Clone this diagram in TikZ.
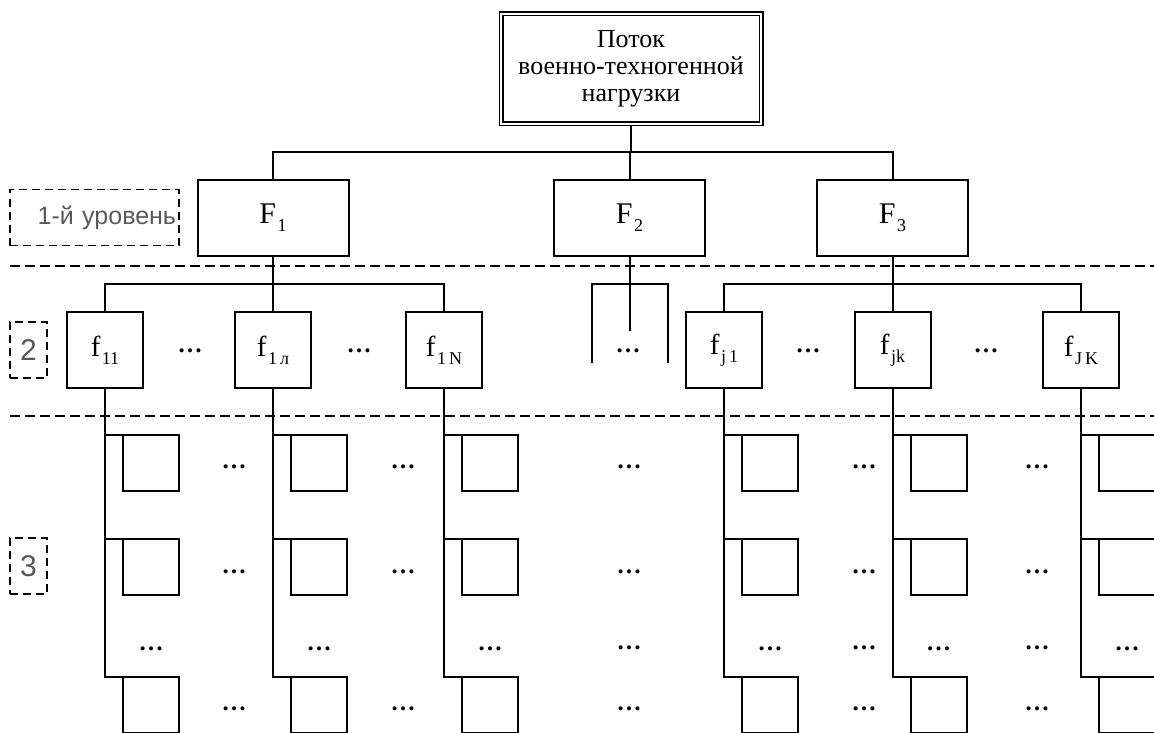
\documentclass[tikz,border=0pt]{standalone}
\usepackage{fontspec}
\setmainfont{Liberation Serif}
\setsansfont{Liberation Sans}
\usetikzlibrary{positioning}

% lowered index after F / f
\newcommand{\idx}[1]{\kern1.5pt\raisebox{-8pt}{\fontsize{18}{18}\selectfont\mdseries #1}}

\begin{document}
\begin{tikzpicture}[
        x=1pt, y=-1pt,
        line width=2pt,
        % Styles
        flowbox/.style={rectangle, draw, double, double distance=2.4pt, line width=1.3pt, minimum width=260pt, minimum height=110pt, inner sep=0pt, align=center, font=\fontsize{26}{27}\selectfont},
        bigf/.style={rectangle, draw, minimum width=151pt, minimum height=76pt, inner sep=0pt, font=\fontsize{30}{30}\selectfont},
        smallf/.style={rectangle, draw, minimum width=76pt, minimum height=76pt, inner sep=0pt, font=\fontsize{29}{29}\selectfont},
        leaf/.style={rectangle, draw, minimum size=56pt, inner sep=0pt, outer sep=0pt},
        more/.style={inner sep=0pt, font=\fontsize{25}{25}\selectfont\bfseries},
        levelbox/.style={rectangle, draw, line width=1.5pt, dash pattern=on 8pt off 5pt, minimum height=56pt, inner sep=0pt, text=black!65, font=\sffamily\fontsize{25}{25}\selectfont},
        divider/.style={line width=2pt, dash pattern=on 10pt off 5pt}
    ]
    \useasboundingbox (0,0) rectangle (1154,733);
    \clip (0,0) rectangle (1154,733);

    % ================= LEVEL 1 =================
    \node[flowbox] (flow) at (631,69) {Поток\\военно-техногенной\\нагрузки};

    \node[bigf] (F1) at (273,218) {F\idx{1}};
    \node[bigf] (F2) at (629.5,218) {F\idx{2}};
    \node[bigf] (F3) at (892.5,218) {F\idx{3}};

    \coordinate (bus1) at (631,152);
    \draw (flow.south) -- (bus1);
    \draw (F1.north) |- (F3.north |- bus1) -- (F3.north);
    \draw (F2.north) -- (F2.north |- bus1);

    % ================= LEVEL 2 =================
    \coordinate (bus2) at (0,284);
    \foreach \name/\x/\sub in {f11/105/11, f1n/273/1\,л, f1N/444/1\,N, fj1/724/j\,1, fjk/892.5/jk, fJK/1081/J\,K}
        \node[smallf] (\name) at (\x,350) {f\idx{\sub}};

    \draw (F1.south) -- (f1n.north);
    \draw (f11.north) |- (f1N.north |- bus2) -- (f1N.north);
    \draw (F3.south) -- (fjk.north);
    \draw (fj1.north) |- (fJK.north |- bus2) -- (fJK.north);

    % F2 branch is left open
    \coordinate (F2end) at (629,331);
    \coordinate (brl) at (592,363);
    \coordinate (brr) at (668,363);
    \draw (F2.south) -- (F2.south |- F2end);
    \draw (brl) |- (brr |- bus2) -- (brr);
    \node[more] (d2c) at (628,351) {\ldots};

    \foreach \x [count=\i] in {190,359,808,986}
        \node[more] (d2-\i) at (\x,351) {\ldots};

    % ================= LEVEL 3 =================
    \foreach \name in {f11,f1n,f1N,fj1,fjk,fJK} {
        \path (\name.south) ++(46,74) node[leaf] (\name-a) {}
              (\name.south) ++(46,178) node[leaf] (\name-b) {}
              (\name.south) ++(46,315.5) node[leaf] (\name-c) {}
              (\name.south) ++(46,260) node[more] (\name-d) {\ldots};
        \draw (\name.south) |- (\name-c.north west);
        \draw (\name.south |- \name-a.north west) -- (\name-a.north west);
        \draw (\name.south |- \name-b.north west) -- (\name-b.north west);
    }

    \foreach \x/\y [count=\i] in {234/467, 234/572, 234/709, 403/467, 403/572, 403/709,
                                 629/467, 629/572, 629/648, 629/709,
                                 864/467, 864/572, 864/648, 864/709,
                                 1037/467, 1037/572, 1037/648, 1037/709}
        \node[more] (d3-\i) at (\x,\y) {\ldots};

    % ================= LEVEL MARKS =================
    \draw[divider] (10,266) -- (1154,266);
    \draw[divider] (10,416) -- (1154,416);

    \node[levelbox, minimum width=169pt, text width=163pt, align=right] (lvl1) at (94.5,217.5) {1-й уровень};
    \node[levelbox, minimum width=37pt, font=\sffamily\fontsize{30}{30}\selectfont] (lvl2) at (28.5,350) {2};
    \node[levelbox, minimum width=37pt, font=\sffamily\fontsize{30}{30}\selectfont] (lvl3) at (28.5,566) {3};

\end{tikzpicture}
\end{document}
